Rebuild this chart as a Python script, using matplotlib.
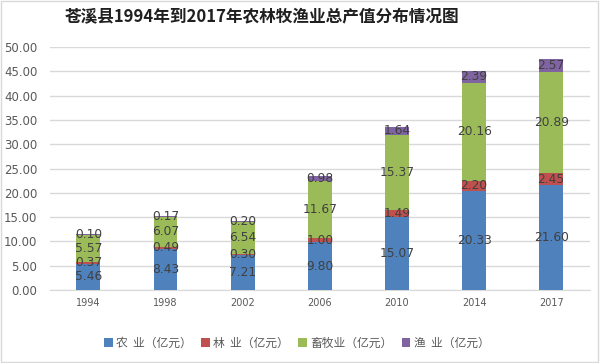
import numpy as np
import matplotlib.pyplot as plt
from matplotlib.patches import Rectangle

plt.rcParams['font.family'] = ['Noto Sans CJK SC', 'DejaVu Sans']

# data
years = ["1994", "1998", "2002", "2006", "2010", "2014", "2017"]
agri = [5.46, 8.43, 7.21, 9.80, 15.07, 20.33, 21.60]
forest = [0.37, 0.49, 0.30, 1.00, 1.49, 2.20, 2.45]
livestock = [5.57, 6.07, 6.54, 11.67, 15.37, 20.16, 20.89]
fishery = [0.10, 0.17, 0.20, 0.98, 1.64, 2.39, 2.57]
series_names = ["农  业（亿元）", "林  业（亿元）", "畜牧业（亿元）", "渔  业（亿元）"]
colors = ["#4F81BD", "#C0504D", "#9BBB59", "#8064A2"]
yticks = [0, 5, 10, 15, 20, 25, 30, 35, 40, 45, 50]

fig = plt.figure(figsize=(6, 3.63), dpi=100)
ax = fig.add_axes([0.083, 0.201, 0.9, 0.669])

x = np.arange(len(years))
bottom = np.zeros(len(years))
for vals, name, c in zip([agri, forest, livestock, fishery], series_names, colors):
    vals = np.array(vals)
    ax.bar(x, vals, 0.31, bottom=bottom, color=c, label=name, zorder=3)
    for xi, b, v in zip(x, bottom, vals):
        ax.text(xi, b + v / 2, f"{v:.2f}", ha="center", va="center",
                fontsize=8.8, color="#404040", family="DejaVu Sans", zorder=4)
    bottom += vals

ax.set_xlim(-0.5, len(years) - 0.5)
ax.set_ylim(0, 50)
ax.set_yticks(yticks)
ax.set_yticklabels([f"{t:.2f}" for t in yticks], family="DejaVu Sans")
ax.set_xticks(x)
ax.set_xticklabels(years, family="DejaVu Sans")
ax.tick_params(axis="y", length=0, pad=9, labelsize=8.5, labelcolor="#595959")
ax.tick_params(axis="x", length=0, pad=6, labelsize=7, labelcolor="#595959")
ax.grid(axis="y", color="#D9D9D9", linewidth=1, zorder=0)
for s in ["top", "right", "left"]:
    ax.spines[s].set_visible(False)
ax.spines["bottom"].set_color("#D9D9D9")

fig.text(0.437, 0.953, "苍溪县1994年到2017年农林牧渔业总产值分布情况图",
         ha="center", va="center", fontsize=12, fontweight="bold", color="#1F1F1F")

fig.legend(loc="center", bbox_to_anchor=(0.495, 0.055), ncol=4, frameon=False,
           fontsize=8.5, labelcolor="#595959", handlelength=0.7, handleheight=0.7,
           handletextpad=0.3, columnspacing=0.8)

fig.patches.append(Rectangle((0.002, 0.003), 0.995, 0.993, transform=fig.transFigure,
                             fill=False, edgecolor="#D9D9D9", linewidth=1))

fig.savefig("out.png", dpi=100)
